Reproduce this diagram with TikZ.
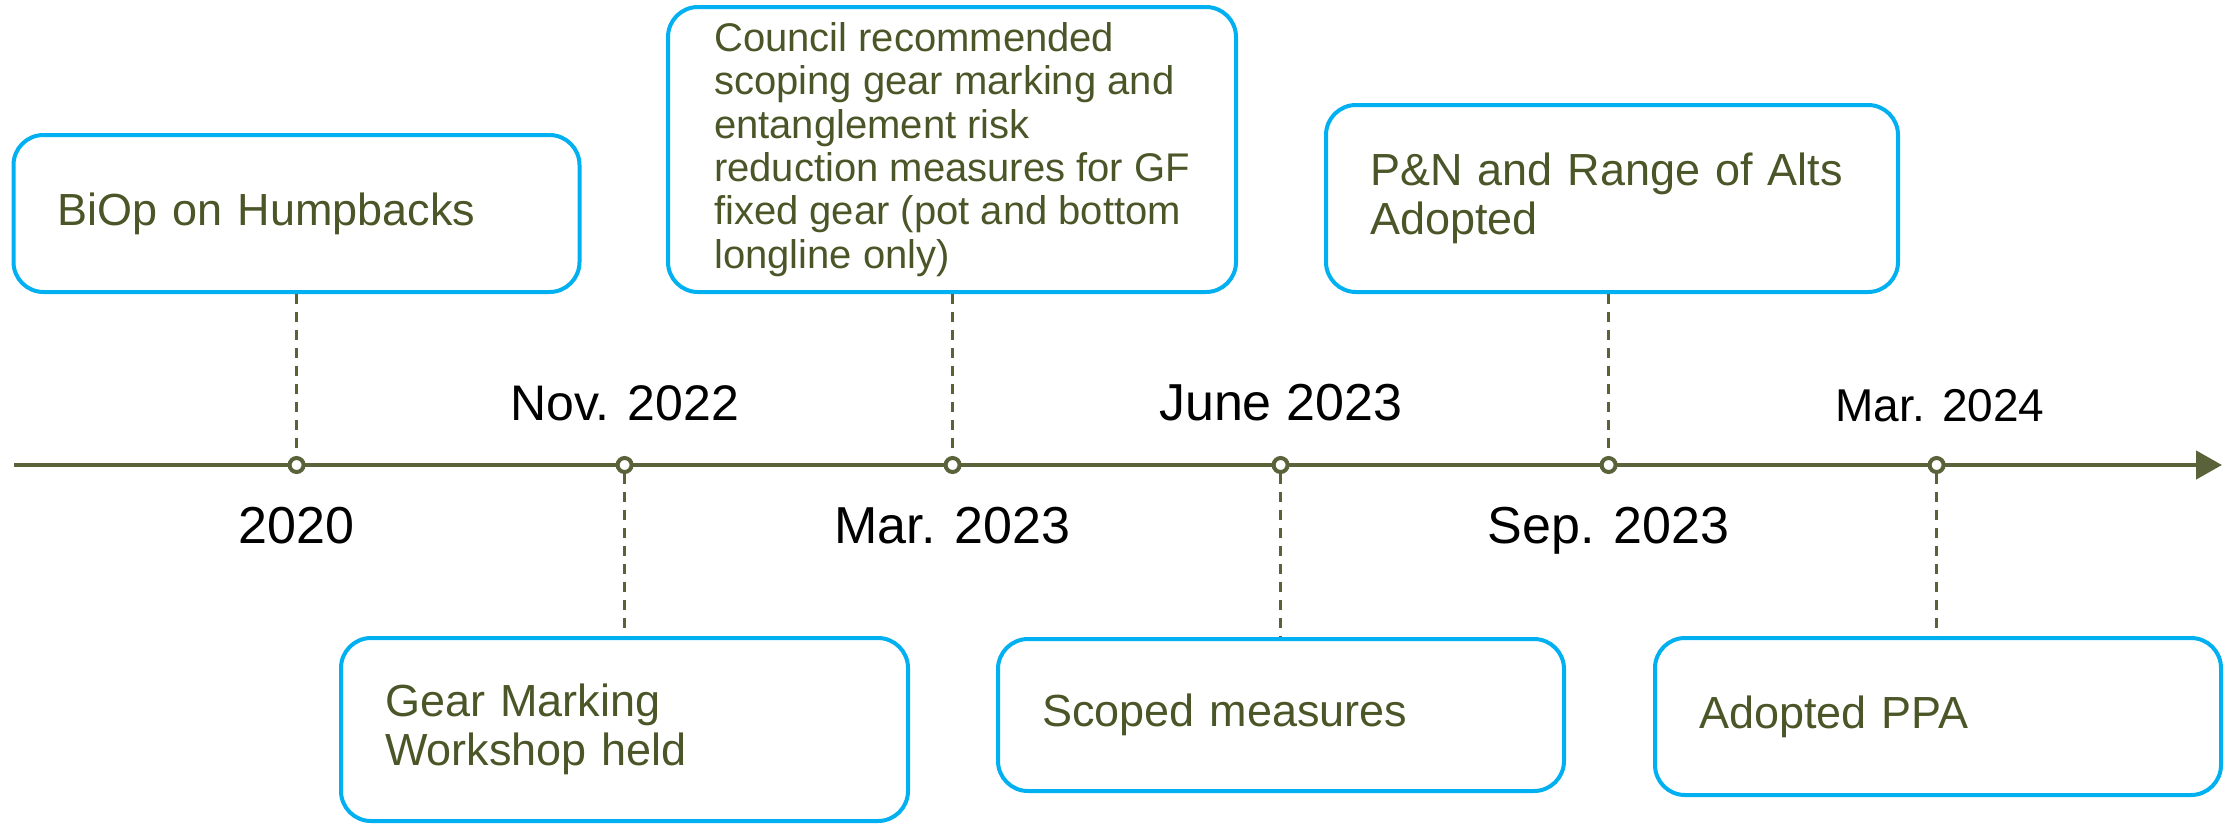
\documentclass[tikz,border=0pt]{standalone}
\usepackage{fontspec}
\setmainfont{Liberation Sans}
\usetikzlibrary{arrows.meta}
\definecolor{olivetext}{HTML}{4B5628}
\definecolor{oliveline}{HTML}{5A6239}
\definecolor{boxblue}{HTML}{00B0F0}
\begin{document}
\begin{tikzpicture}[x=1pt,y=-1pt,
  evbox/.style={draw=boxblue, line width=4pt, rounded corners=30pt, text=olivetext,
    align=left, inner xsep=44pt, inner ysep=0pt,
    font=\fontsize{45}{49}\selectfont},
  datelbl/.style={text=black, inner sep=0pt, anchor=base, font=\fontsize{52}{60}\selectfont},
  dotc/.style={circle, draw=oliveline, fill=white, line width=4pt, minimum size=14pt, inner sep=0pt},
  axisline/.style={draw=oliveline, line width=4.5pt},
  dashline/.style={draw=oliveline, line width=3pt, dash pattern=on 10pt off 8pt}
]
\useasboundingbox (0,0) rectangle (2236,823);

% axis
\coordinate (axs) at (14,465);
\coordinate (axe) at (2222,465);
\draw[axisline, -{Triangle[length=26pt,width=28pt]}, oliveline] (axs) -- (axe);

% dots
\node[dotc] (d1) at (296.6,465) {};
\node[dotc] (d2) at (624.6,465) {};
\node[dotc] (d3) at (952.6,465) {};
\node[dotc] (d4) at (1280.6,465) {};
\node[dotc] (d5) at (1608.6,465) {};
\node[dotc] (d6) at (1936.6,465) {};

% boxes
\node[evbox, text width=478pt, minimum height=157pt] (b1) at (296.5,213.5) {BiOp on Humpbacks};
\node[evbox, minimum width=568pt, minimum height=285pt, inner xsep=40pt, font=\fontsize{40}{43.4}\selectfont] (b2) at (952,149.5)
  {Council recommended\\scoping gear marking and\\entanglement risk\\reduction measures for GF\\fixed gear (pot and bottom\\longline only)};
\node[evbox, text width=484pt, minimum height=187pt] (b3) at (1612,198.5) {P\&N and Range of Alts\\Adopted};
\node[evbox, text width=479pt, minimum height=183pt] (b4) at (624.5,729.5) {Gear Marking\\Workshop held};
\node[evbox, text width=478pt, minimum height=152pt] (b5) at (1281,715) {Scoped measures};
\node[evbox, text width=478pt, minimum height=157pt] (b6) at (1938,716.5) {Adopted PPA};

% connectors
\draw[dashline] (b1.south -| d1) -- (d1);
\draw[dashline] (b2.south -| d3) -- (d3);
\draw[dashline] (b3.south -| d5) -- (d5);
\draw[dashline] (d2) -- (b4.north -| d2);
\draw[dashline] (d4) -- (b5.north -| d4);
\draw[dashline] (d6) -- (b6.north -| d6);

% date labels
\node[datelbl] (l1) at (296.6,543) {2020};
\node[datelbl, font=\fontsize{50}{60}\selectfont] (l2) at (624.6,420) {Nov. 2022};
\node[datelbl] (l3) at (952.6,543) {Mar. 2023};
\node[datelbl] (l4) at (1280.6,420) {June 2023};
\node[datelbl] (l5) at (1608.6,543) {Sep. 2023};
\node[datelbl, font=\fontsize{46}{56}\selectfont] (l6) at (1940,421) {Mar. 2024};
\end{tikzpicture}
\end{document}
